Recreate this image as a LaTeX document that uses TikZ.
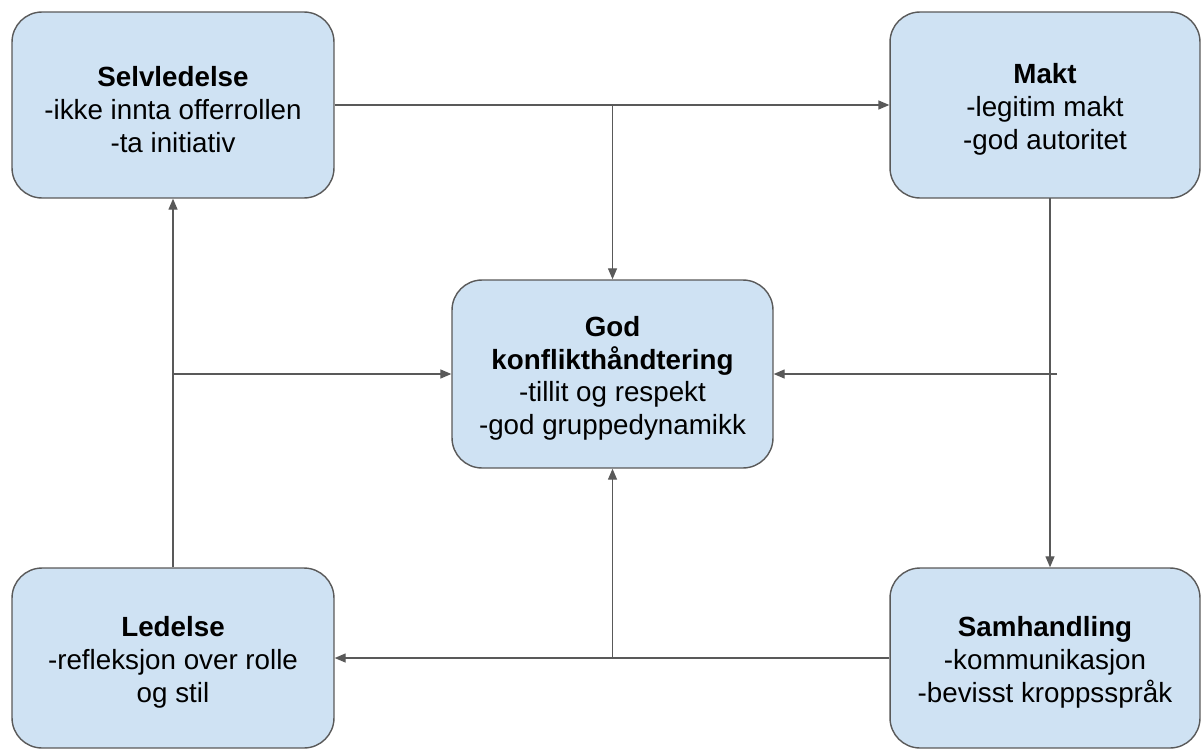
\documentclass[tikz,border=0pt]{standalone}
\usepackage{fontspec}
\setmainfont{Liberation Sans}
\usetikzlibrary{arrows.meta}

\definecolor{boxblue}{HTML}{CFE2F3}
\definecolor{linegray}{HTML}{595959}
\newcommand{\boxhead}[1]{\textbf{\rule{0pt}{16.5pt}#1}}

\begin{document}
\begin{tikzpicture}[x=0.02cm, y=-0.02cm,
    box/.style={draw=linegray, line width=0.8pt, fill=boxblue, rounded corners=0.6cm,
        align=center, inner sep=0pt,
        font=\fontsize{15.8}{18.6}\selectfont},
    link/.style={draw=linegray, line width=0.75pt},
    arr/.style={link, -{Triangle[length=2.2mm, width=1.8mm]}}]

\useasboundingbox (0,0) rectangle (1202,750);

% --- Boxes ---
\node[box, minimum width=6.44cm, minimum height=3.72cm] (selv) at (173,105)
    {\boxhead{Selvledelse}\\-ikke innta offerrollen\\-ta initiativ};
\node[box, minimum width=6.2cm, minimum height=3.72cm] (makt) at (1045,105)
    {\boxhead{Makt}\\-legitim makt\\-god autoritet};
\node[box, minimum width=6.42cm, minimum height=3.76cm] (god) at (612.5,374)
    {\boxhead{God}\\\textbf{konflikthåndtering}\\-tillit og respekt\\-god gruppedynamikk};
\node[box, minimum width=6.44cm, minimum height=3.6cm] (led) at (173,658)
    {\boxhead{Ledelse}\\-refleksjon over rolle\\og stil};
\node[box, minimum width=6.2cm, minimum height=3.6cm] (sam) at (1045,658)
    {\boxhead{Samhandling}\\-kommunikasjon\\-bevisst kroppsspråk};

% --- Top ---
\draw[arr] (selv.east) -- (makt.west);
\draw[arr] (god.north |- selv.east) -- (god.north);

% --- Right ---
\coordinate (rdown) at (1050,198);
\coordinate (rjoin) at (1057,374);
\draw[arr] (rdown) -- (rdown |- sam.north);
\draw[arr] (rjoin) -- (god.east);

% --- Bottom ---
\draw[arr] (sam.west) -- (led.east);
\draw[arr] (god.south |- sam.west) -- (god.south);

% --- Left ---
\draw[arr] (led.north) -- (selv.south);
\draw[arr] (god.west -| led.north) -- (god.west);

\end{tikzpicture}
\end{document}
